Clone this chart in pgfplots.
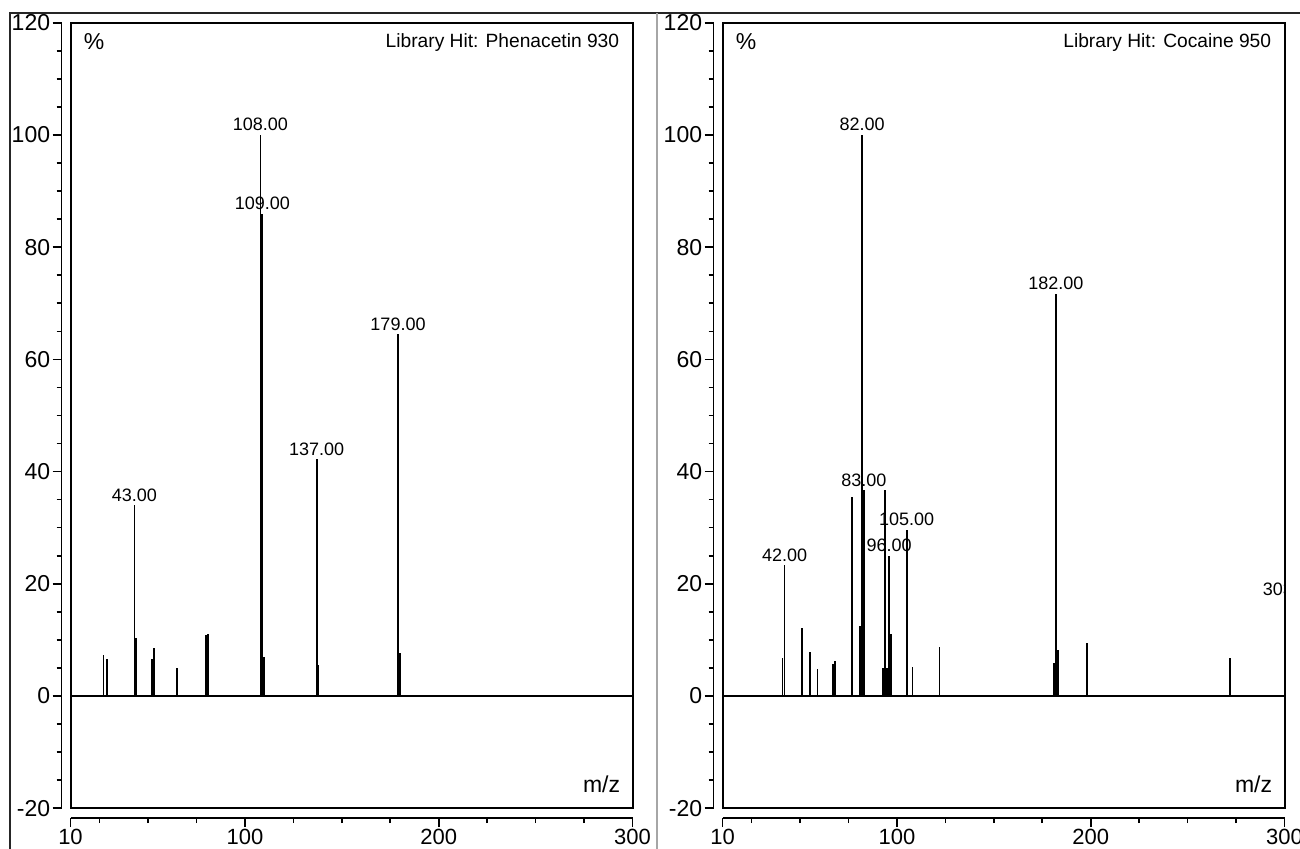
\documentclass[border=0pt]{standalone}
\usepackage{fontspec}
\setmainfont{Liberation Sans}
\usepackage{pgfplots}
\pgfplotsset{compat=1.18}

\pgfplotsset{
  msaxis/.style={
    scale only axis, width=281pt, height=392.7pt,
    xmin=10, xmax=300, ymin=-20, ymax=120,
    axis x line*=bottom, axis y line*=left,
    axis x line shift=5pt, axis y line shift=4.5pt,
    xtick={10,100,200,300},
    minor xtick={25,50,75,125,150,175,225,250,275},
    ytick={-20,0,20,40,60,80,100,120}, minor y tick num=3,
    tick align=outside, major tick length=4.5pt, minor tick length=2.5pt,
    every tick/.style={line width=0.8pt, black},
    axis line style={line width=0.9pt, black},
    yticklabel style={font=\fontsize{11.5}{12}\selectfont, inner sep=1pt},
    xticklabel style={font=\fontsize{11}{12}\selectfont, inner sep=1pt},
    /pgf/number format/assume math mode=true,
    after end axis/.code={
      \draw[line width=1pt] (rel axis cs:0,0) rectangle (rel axis cs:1,1);
    },
  },
  stick/.style={ycomb, black, line width=0.9pt, mark=none},
  labelled/.style={ycomb, black, line width=0.9pt, mark=none,
    point meta=x,
    nodes near coords={\pgfmathprintnumber[fixed,fixed zerofill,precision=2,assume math mode=true]{\pgfplotspointmeta}},
    every node near coord/.style={font=\fontsize{9}{10}\selectfont, anchor=south, inner sep=1.5pt, black}},
}

\begin{document}
\begin{tikzpicture}[x=1pt,y=1pt]
\useasboundingbox (0,0) rectangle (650,424.5);

% ---------- left panel: Phenacetin ----------
\begin{axis}[msaxis, at={(35.25pt,20.4pt)}, anchor=south west]
\addplot[stick] coordinates {
 (27,7.3) (29,6.6) (44,10.3) (52,6.6) (53,8.5) (65,5.0) (80,10.9) (81,11.0)
 (110,7.0) (138,5.5) (180,7.6)
};
\addplot[labelled] coordinates {
 (43,34.0) (108,100) (109,86.0) (137,42.2) (179,64.5)
};
\draw[line width=1pt] (axis cs:10,0) -- (axis cs:300,0);
\node[anchor=north west, inner sep=0pt, font=\fontsize{11.5}{12}\selectfont] at ([xshift=6.5pt,yshift=-5pt]rel axis cs:0,1) {\%};
\node[anchor=north east, inner sep=0pt, font=\fontsize{9.6}{10}\selectfont] at ([xshift=-6.5pt,yshift=-5pt]rel axis cs:1,1) {Library Hit: Phenacetin 930};
\node[anchor=base east, inner sep=0pt, font=\fontsize{11.5}{12}\selectfont] at ([xshift=-6pt,yshift=8pt]rel axis cs:1,0) {m/z};
\end{axis}

% ---------- right panel: Cocaine ----------
\begin{axis}[msaxis, at={(361.25pt,20.4pt)}, anchor=south west]
\addplot[stick] coordinates {
 (41,6.7) (51,12.1) (55,7.8) (59,4.9) (67,5.7) (68,6.2) (77,35.5) (81,12.5)
 (93,5.0) (94,36.7) (95,5.0) (97,11.0) (108,5.2) (122,8.7)
 (181,5.8) (183,8.2) (198,9.4) (272,6.7) (303,17.3)
};
\addplot[labelled] coordinates {
 (42,23.3) (82,100) (83,36.7) (96,25.0) (105,29.6) (182,71.7)
};
\draw[line width=1pt] (axis cs:10,0) -- (axis cs:300,0);
\begin{scope}
\clip (rel axis cs:0,0) rectangle (rel axis cs:1,1);
\node[anchor=south, inner sep=1.5pt, font=\fontsize{9}{10}\selectfont] at (axis cs:303,17.3) {303.00};
\end{scope}
\node[anchor=north west, inner sep=0pt, font=\fontsize{11.5}{12}\selectfont] at ([xshift=6.5pt,yshift=-5pt]rel axis cs:0,1) {\%};
\node[anchor=north east, inner sep=0pt, font=\fontsize{9.6}{10}\selectfont] at ([xshift=-6.5pt,yshift=-5pt]rel axis cs:1,1) {Library Hit: Cocaine 950};
\node[anchor=base east, inner sep=0pt, font=\fontsize{11.5}{12}\selectfont] at ([xshift=-6pt,yshift=8pt]rel axis cs:1,0) {m/z};
\end{axis}

% ---------- outer frame lines ----------
\draw[line width=1pt, black!85] (5,0) -- (5,418.2) -- (650,418.2);
\draw[line width=1pt, black!35] (328.5,0) -- (328.5,418.2);
\end{tikzpicture}
\end{document}
